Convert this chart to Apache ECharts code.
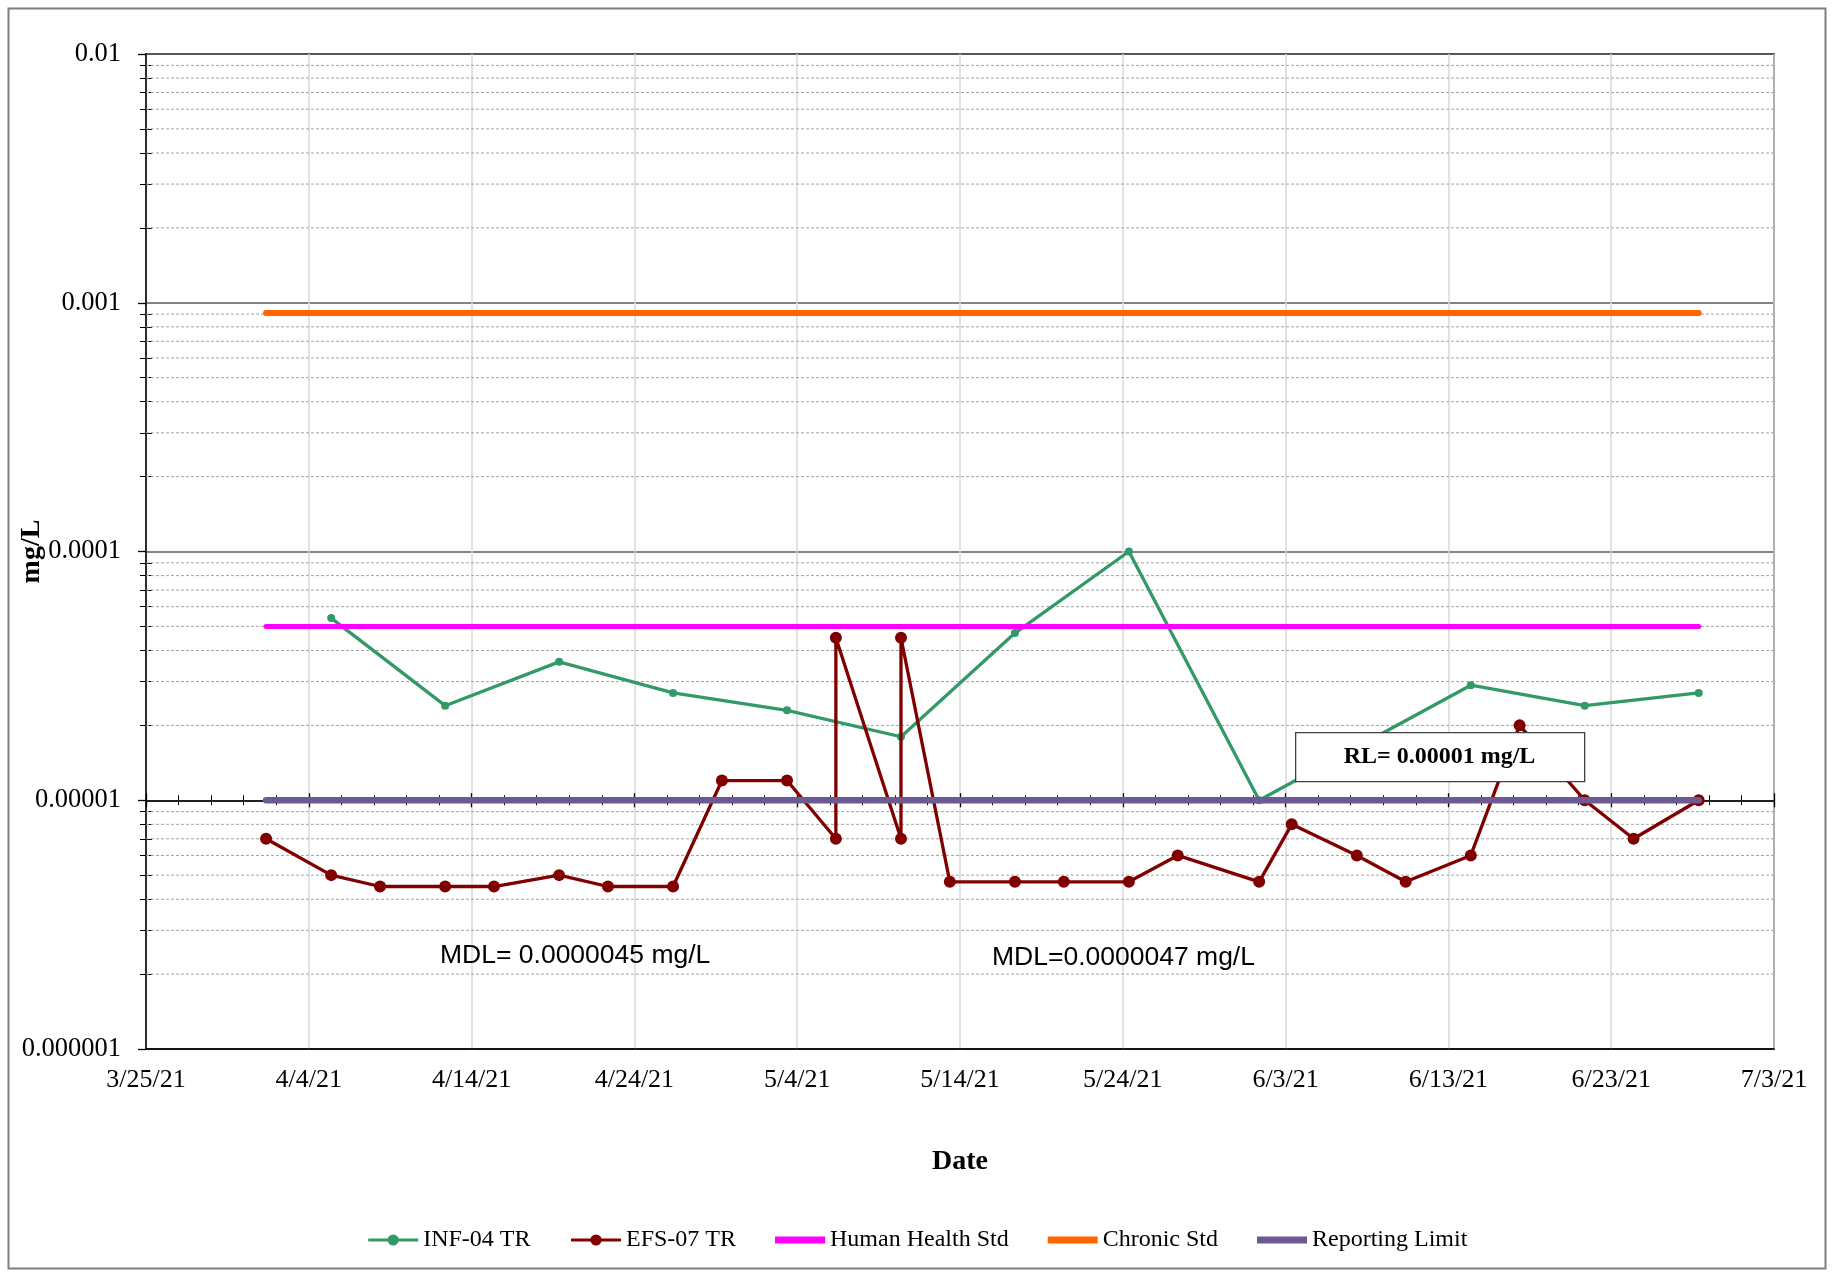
<!DOCTYPE html>
<html>
<head>
<meta charset="utf-8">
<script src="https://cdn.jsdelivr.net/npm/echarts@6/dist/echarts.min.js"></script>
<style>
html,body{margin:0;padding:0;background:#fff;}
#chart{width:1834px;height:1272px;}
</style>
</head>
<body>
<div id="chart"></div>
<script>
// ---------------- DATA ----------------
const INF_DATES = ['2021-04-05T09:00','2021-04-12T09:00','2021-04-19T09:00','2021-04-26T09:00','2021-05-03T09:00','2021-05-10T09:00','2021-05-17T09:00','2021-05-24T09:00','2021-06-01T09:00','2021-06-14T09:00','2021-06-21T09:00','2021-06-28T09:00'];
const INF_VALUES = [0.000054,0.000024,0.000036,0.000027,0.000023,0.000018,0.000047,0.0001,0.00001,0.000029,0.000024,0.000027];

const EFS_DATES = ['2021-04-01T09:00','2021-04-05T09:00','2021-04-08T09:00','2021-04-12T09:00','2021-04-15T09:00','2021-04-19T09:00','2021-04-22T09:00','2021-04-26T09:00','2021-04-29T09:00','2021-05-03T09:00','2021-05-06T09:00','2021-05-06T09:00','2021-05-10T09:00','2021-05-10T09:00','2021-05-13T09:00','2021-05-17T09:00','2021-05-20T09:00','2021-05-24T09:00','2021-05-27T09:00','2021-06-01T09:00','2021-06-03T09:00','2021-06-07T09:00','2021-06-10T09:00','2021-06-14T09:00','2021-06-17T09:00','2021-06-21T09:00','2021-06-24T09:00','2021-06-28T09:00'];
const EFS_VALUES = [0.000007,0.000005,0.0000045,0.0000045,0.0000045,0.000005,0.0000045,0.0000045,0.000012,0.000012,0.000007,0.000045,0.000007,0.000045,0.0000047,0.0000047,0.0000047,0.0000047,0.000006,0.0000047,0.000008,0.000006,0.0000047,0.000006,0.00002,0.00001,0.000007,0.00001];

const STD_DATES = ['2021-04-01T09:00','2021-06-28T09:00'];
const HUMAN_HEALTH_STD = 0.00005;
const CHRONIC_STD = 0.00091;
const REPORTING_LIMIT = 0.00001;

const X_TICK_LABELS = ['3/25/21','4/4/21','4/14/21','4/24/21','5/4/21','5/14/21','5/24/21','6/3/21','6/13/21','6/23/21','7/3/21'];
const X_TICK_STEP_DAYS = 10;
const Y_TICK_LABELS = ['0.000001','0.00001','0.0001','0.001','0.01'];
const Y_MINOR_MULTIPLIERS = [2,3,4,5,6,7,8,9];

const SERIES_NAMES = ['INF-04 TR','EFS-07 TR','Human Health Std','Chronic Std','Reporting Limit'];
const MDL_NOTES = ['MDL= 0.0000045 mg/L','MDL=0.0000047 mg/L'];
const RL_NOTE = 'RL= 0.00001 mg/L';

// ---------------- HELPERS ----------------
const EXCEL_EPOCH = Date.UTC(1899, 11, 30);
function isoToSerial(s) {
  const [d, t] = s.split('T');
  const [y, m, day] = d.split('-').map(Number);
  const [hh, mm] = (t || '00:00').split(':').map(Number);
  return (Date.UTC(y, m - 1, day, hh, mm) - EXCEL_EPOCH) / 86400000;
}
function mdyToSerial(s) {
  const [m, d, y] = s.split('/').map(Number);
  return (Date.UTC(2000 + y, m - 1, d) - EXCEL_EPOCH) / 86400000;
}
const X_MIN = mdyToSerial(X_TICK_LABELS[0]);
const X_MAX = mdyToSerial(X_TICK_LABELS[X_TICK_LABELS.length - 1]);
const Y_MIN = parseFloat(Y_TICK_LABELS[0]);
const Y_MAX = parseFloat(Y_TICK_LABELS[Y_TICK_LABELS.length - 1]);

const minorValues = [];
for (let i = 0; i < Y_TICK_LABELS.length - 1; i++) {
  const base = parseFloat(Y_TICK_LABELS[i]);
  Y_MINOR_MULTIPLIERS.forEach(m => minorValues.push(+(base * m).toPrecision(6)));
}
const relLog = v => Math.log10(v / REPORTING_LIMIT);

const pairs = (dates, vals) => dates.map((d, i) => [isoToSerial(d), vals[i]]);
const flat = (dates, v) => dates.map(d => [isoToSerial(d), v]);

const SERIF = '"Liberation Serif", "Times New Roman", serif';
const SANS = '"Liberation Sans", Arial, sans-serif';
const BAR_ICON = 'path://M0,0L50,0L50,7L0,7Z';

const COLORS = ['#339966', '#800000', '#ff00ff', '#ff6600', '#6e5a93'];

const chart = echarts.init(document.getElementById('chart'), null, {renderer: 'canvas'});

const xBase = {
  type: 'value', min: X_MIN, max: X_MAX, interval: X_TICK_STEP_DAYS, position: 'bottom'
};

// minor (2..9 x decade) horizontal gridlines, one thin dotted line each across the axis range
const minorGridSeries = minorValues.map(v => ({
  type: 'line', silent: true, z: 1, symbol: 'none', showSymbol: false,
  data: [[X_MIN, v], [X_MAX, v]],
  lineStyle: {color: '#a4a4a4', width: 1, type: [3, 2]},
  emphasis: {disabled: true},
  tooltip: {show: false}
}));

const option = {
  animation: false,
  backgroundColor: '#fff',
  grid: {
    left: 146, top: 54, right: 60, bottom: 223,
    show: true, borderColor: '#000', borderWidth: 1.5, backgroundColor: 'transparent',
    outerBoundsMode: 'none'
  },
  legend: {
    data: [
      {name: SERIES_NAMES[0], lineStyle: {width: 3}},
      {name: SERIES_NAMES[1], lineStyle: {width: 3}},
      {name: SERIES_NAMES[2], icon: BAR_ICON},
      {name: SERIES_NAMES[3], icon: BAR_ICON},
      {name: SERIES_NAMES[4], icon: BAR_ICON}
    ],
    bottom: 15,
    left: 'center',
    itemWidth: 50,
    itemHeight: 14,
    itemGap: 39,
    textStyle: {fontFamily: SERIF, fontSize: 24, color: '#000'},
    selectedMode: false
  },
  xAxis: [
    Object.assign({}, xBase, {
      axisLine: {show: true, onZero: false, lineStyle: {color: '#000', width: 1.5}},
      axisTick: {show: false},
      axisLabel: {
        fontFamily: SERIF, fontSize: 26, color: '#000', margin: 18,
        formatter: v => X_TICK_LABELS[Math.round((v - X_MIN) / X_TICK_STEP_DAYS)]
      },
      splitLine: {show: true, lineStyle: {color: '#d9d9d9', width: 1.5}},
      name: 'Date', nameLocation: 'middle', nameGap: 99, nameMoveOverlap: false,
      nameTextStyle: {fontFamily: SERIF, fontWeight: 'bold', fontSize: 28, color: '#000'}
    }),
    Object.assign({}, xBase, {
      axisLine: {show: true, onZero: true, onZeroAxisIndex: 1, lineStyle: {color: '#000', width: 1.5}},
      axisTick: {show: true, length: 7, lineStyle: {color: '#000', width: 1.3}},
      minorTick: {show: true, splitNumber: 5, length: 5, lineStyle: {color: '#000', width: 1}},
      axisLabel: {show: false},
      splitLine: {show: false}
    }),
    Object.assign({}, xBase, {
      axisLine: {show: false, onZero: true, onZeroAxisIndex: 1},
      axisTick: {show: true, inside: true, length: 7, lineStyle: {color: '#000', width: 1.3}},
      minorTick: {show: true, splitNumber: 5, length: 5, lineStyle: {color: '#000', width: 1}},
      axisLabel: {show: false},
      splitLine: {show: false}
    })
  ],
  yAxis: [
    {
      type: 'log', logBase: 10, min: Y_MIN, max: Y_MAX, position: 'left',
      axisLine: {show: true, onZero: false, lineStyle: {color: '#000', width: 1.5}},
      axisTick: {show: true, length: 8, lineStyle: {color: '#000', width: 1.3}},
      axisLabel: {
        fontFamily: SERIF, fontSize: 26.5, color: '#000', margin: 25,
        formatter: v => Y_TICK_LABELS[Math.round(Math.log10(v / Y_MIN))]
      },
      splitLine: {show: true, lineStyle: {color: '#5a5a5a', width: 1.5}},
      name: 'mg/L', nameLocation: 'middle', nameGap: 100, nameRotate: 90, nameMoveOverlap: false,
      nameTextStyle: {fontFamily: SERIF, fontWeight: 'bold', fontSize: 28, color: '#000'}
    },
    {
      type: 'value', min: relLog(Y_MIN), max: relLog(Y_MAX), position: 'left', offset: -6,
      axisLine: {show: false, onZero: false},
      axisTick: {show: true, length: 12, customValues: minorValues.map(relLog), lineStyle: {color: '#000', width: 1}},
      axisLabel: {show: false},
      splitLine: {show: false}
    }
  ],
  series: minorGridSeries.concat([
    {
      name: SERIES_NAMES[0], type: 'line', data: pairs(INF_DATES, INF_VALUES), z: 3,
      color: COLORS[0], symbol: 'circle', symbolSize: 8, showSymbol: true,
      lineStyle: {width: 3.3, color: COLORS[0]}, itemStyle: {color: COLORS[0]}
    },
    {
      name: SERIES_NAMES[1], type: 'line', data: pairs(EFS_DATES, EFS_VALUES), z: 4,
      color: COLORS[1], symbol: 'circle', symbolSize: 12, showSymbol: true,
      lineStyle: {width: 3.3, color: COLORS[1]}, itemStyle: {color: COLORS[1]}
    },
    {
      name: SERIES_NAMES[2], type: 'line', data: flat(STD_DATES, HUMAN_HEALTH_STD), z: 5,
      color: COLORS[2], symbol: 'none', showSymbol: false,
      lineStyle: {width: 5, color: COLORS[2], cap: 'round'}
    },
    {
      name: SERIES_NAMES[3], type: 'line', data: flat(STD_DATES, CHRONIC_STD), z: 5,
      color: COLORS[3], symbol: 'none', showSymbol: false,
      lineStyle: {width: 6, color: COLORS[3], cap: 'round'}
    },
    {
      name: SERIES_NAMES[4], type: 'line', data: flat(STD_DATES, REPORTING_LIMIT), z: 6,
      color: COLORS[4], symbol: 'none', showSymbol: false,
      lineStyle: {width: 6.5, color: COLORS[4], cap: 'round'}
    }
  ]),
  graphic: [
    {type: 'rect', left: 6, top: 6, shape: {width: 1817, height: 1260}, style: {fill: 'none', stroke: '#7f7f7f', lineWidth: 2}, z: 0, silent: true},
    {type: 'text', left: 440, top: 942, style: {text: MDL_NOTES[0], font: '26.5px ' + SANS, fill: '#000'}, z: 50},
    {type: 'text', left: 992, top: 944, style: {text: MDL_NOTES[1], font: '26.5px ' + SANS, fill: '#000'}, z: 50},
    {type: 'rect', left: 1295, top: 732, shape: {width: 289, height: 49}, style: {fill: '#fff', stroke: '#404040', lineWidth: 1.3}, z: 100},
    {type: 'text', x: 1439.5, y: 756.5, style: {text: RL_NOTE, font: 'bold 24px ' + SERIF, fill: '#000', align: 'center', verticalAlign: 'middle'}, z: 101}
  ]
};
chart.setOption(option);
</script>
</body>
</html>
